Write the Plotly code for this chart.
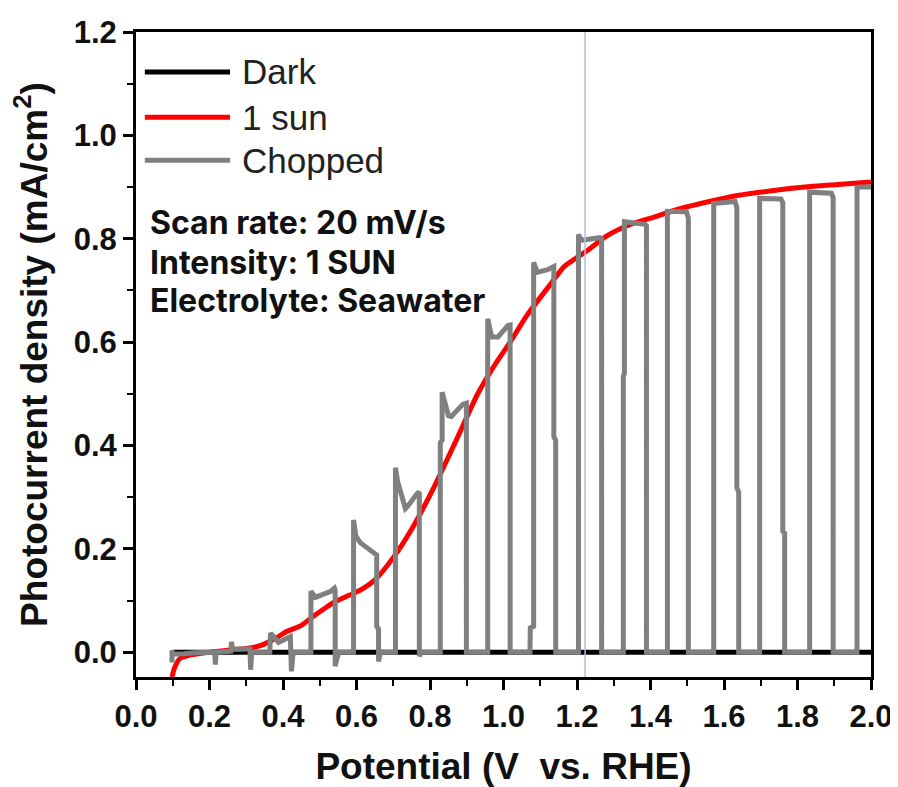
import plotly.graph_objects as go

# ---- data ----
dark_v = [0.1, 2.0]
dark_j = [0.0, 0.0]

sun_v = [0.098, 0.105, 0.12, 0.15, 0.2, 0.25, 0.3, 0.34, 0.38, 0.41, 0.45, 0.48, 0.51, 0.54,
         0.58, 0.61, 0.65, 0.70, 0.75, 0.81, 0.87, 0.93, 0.98, 1.02, 1.065, 1.13, 1.165, 1.23, 1.28,
         1.34, 1.41, 1.48, 1.56, 1.64, 1.72, 1.82, 1.91, 2.0]
sun_j = [-0.048, -0.03, -0.012, -0.005, 0.0, 0.004, 0.007, 0.013, 0.027, 0.04, 0.052, 0.068,
         0.083, 0.097, 0.11, 0.12, 0.14, 0.183, 0.238, 0.318, 0.408, 0.5, 0.56, 0.602, 0.653, 0.714,
         0.746, 0.778, 0.805, 0.826, 0.842, 0.858, 0.872, 0.884, 0.892, 0.9, 0.905, 0.91]

chop_v = [0.098, 0.098, 0.100, 0.13, 0.16, 0.214, 0.216, 0.218, 0.258,
          0.260, 0.263, 0.31, 0.312, 0.315, 0.364,
          0.366, 0.388, 0.42, 0.423, 0.427, 0.432, 0.474,
          0.476, 0.476, 0.488, 0.53, 0.54, 0.542, 0.542, 0.547, 0.552, 0.590,
          0.592, 0.592, 0.598, 0.61, 0.645, 0.655, 0.655, 0.660, 0.660, 0.665, 0.704,
          0.706, 0.706, 0.712, 0.733, 0.74, 0.763, 0.771, 0.771, 0.776, 0.827,
          0.828, 0.828, 0.833, 0.833, 0.85, 0.858, 0.89, 0.899, 0.899, 0.956,
          0.957, 0.957, 0.968, 0.985, 1.012, 1.018, 1.018, 1.072,
          1.073, 1.082, 1.082, 1.092, 1.12, 1.137, 1.137, 1.142, 1.142, 1.203,
          1.204, 1.204, 1.212, 1.262, 1.267, 1.267, 1.325,
          1.326, 1.326, 1.329, 1.329, 1.385, 1.389, 1.389, 1.445,
          1.446, 1.446, 1.498, 1.503, 1.503, 1.571,
          1.572, 1.572, 1.63, 1.635, 1.635, 1.64, 1.64, 1.696,
          1.697, 1.697, 1.755, 1.76, 1.76, 1.765, 1.765, 1.832,
          1.833, 1.833, 1.892, 1.897, 1.897, 1.961,
          1.962, 1.962, 1.97, 2.0]
chop_j = [-0.02, 0.004, -0.004, -0.003, -0.001, 0.0, -0.024, 0.0, 0.002,
          0.02, 0.006, 0.006, -0.034, 0.0, 0.0,
          0.037, 0.019, 0.03, -0.037, -0.005, 0.0, 0.0,
          0.0, 0.118, 0.106, 0.118, 0.124, 0.12, -0.027, -0.012, 0.0, 0.0,
          0.0, 0.256, 0.225, 0.212, 0.195, 0.188, 0.05, 0.045, -0.018, 0.0, 0.0,
          0.0, 0.357, 0.33, 0.278, 0.283, 0.305, 0.31, -0.008, 0.0, 0.0,
          0.0, 0.405, 0.41, 0.503, 0.458, 0.456, 0.48, 0.482, 0.0, 0.0,
          0.0, 0.645, 0.61, 0.61, 0.632, 0.633, 0.0, 0.0,
          0.047, 0.05, 0.754, 0.735, 0.74, 0.746, 0.417, 0.41, 0.0, 0.0,
          0.0, 0.808, 0.797, 0.802, 0.8, 0.0, 0.0,
          0.0, 0.533, 0.54, 0.833, 0.828, 0.825, 0.0, 0.0,
          0.0, 0.853, 0.852, 0.84, 0.0, 0.0,
          0.0, 0.868, 0.872, 0.86, 0.318, 0.31, 0.0, 0.0,
          0.0, 0.878, 0.877, 0.87, 0.234, 0.23, 0.0, 0.0,
          0.0, 0.89, 0.888, 0.88, 0.0, 0.0,
          0.0, 0.899, 0.9, 0.9]

RHE_LINE = 1.222
x_range = [0.0, 2.0]
y_range = [-0.048, 1.2]

series_names = ["Dark", "1 sun", "Chopped"]
series_colors = ["#000000", "#ff0000", "#808080"]
notes = ["Scan rate: 20 mV/s", "Intensity: 1 SUN", "Electrolyte: Seawater"]

# ---- figure ----
fig = go.Figure()
fig.add_trace(go.Scatter(x=dark_v, y=dark_j, mode="lines", name=series_names[0],
                         line=dict(color=series_colors[0], width=5), showlegend=False))
fig.add_trace(go.Scatter(x=sun_v, y=sun_j, mode="lines", name=series_names[1],
                         line=dict(color=series_colors[1], width=5, shape="spline", smoothing=0.6),
                         showlegend=False))
fig.add_trace(go.Scatter(x=chop_v, y=chop_j, mode="lines", name=series_names[2],
                         line=dict(color=series_colors[2], width=5), showlegend=False))

shapes = [dict(type="line", xref="x", yref="paper", x0=RHE_LINE, x1=RHE_LINE, y0=0, y1=1,
               line=dict(color="#a9c3e0", width=1.5), layer="above")]
annotations = []

# custom legend (long line samples)
leg_y = [0.938, 0.868, 0.801]
for name, col, yy in zip(series_names, series_colors, leg_y):
    shapes.append(dict(type="line", xref="paper", yref="paper", x0=0.012, x1=0.128, y0=yy, y1=yy,
                       line=dict(color=col, width=5)))
    annotations.append(dict(xref="paper", yref="paper", x=0.1415, y=yy, text=name, showarrow=False,
                            xanchor="left", yanchor="middle",
                            font=dict(family="Liberation Sans, Arial", size=35, color="#222222")))

note_y = [0.704, 0.643, 0.584]
for t, yy in zip(notes, note_y):
    annotations.append(dict(xref="paper", yref="paper", x=0.016, y=yy, text=t, showarrow=False,
                            xanchor="left", yanchor="middle",
                            font=dict(family="Inter", size=32, color="#111111", weight="bold")))

tickfont = dict(family="Liberation Sans, Arial", size=31, color="#111111", weight="bold")
titlefont = dict(family="Liberation Sans, Arial", size=37, color="#111111", weight="bold")

# page body has an 8px margin, so the figure is 8px smaller and margins shifted
fig.update_layout(
    width=890, height=779,
    margin=dict(l=128, r=27, t=24, b=110, autoexpand=False),
    paper_bgcolor="white", plot_bgcolor="white",
    showlegend=False,
    shapes=shapes, annotations=annotations,
    xaxis=dict(range=x_range, dtick=0.2, tick0=0, tickformat=".1f",
               showline=True, linecolor="black", linewidth=3, mirror=True,
               ticks="outside", ticklen=10, tickwidth=3, tickcolor="black",
               minor=dict(dtick=0.1, ticks="outside", ticklen=6, tickwidth=2, tickcolor="black"),
               showgrid=False, zeroline=False, tickfont=tickfont,
               title=dict(text="Potential (V\u00a0\u00a0vs. RHE)", font=titlefont, standoff=20)),
    yaxis=dict(range=y_range, dtick=0.2, tick0=0, tickformat=".1f",
               showline=True, linecolor="black", linewidth=3, mirror=True,
               ticks="outside", ticklen=10, tickwidth=3, tickcolor="black",
               minor=dict(dtick=0.1, ticks="outside", ticklen=6, tickwidth=2, tickcolor="black"),
               showgrid=False, zeroline=False, tickfont=tickfont,
               title=dict(text="Photocurrent density (mA/cm<sup>2</sup>)", font=titlefont, standoff=17)),
)

fig.write_html("out.html")
